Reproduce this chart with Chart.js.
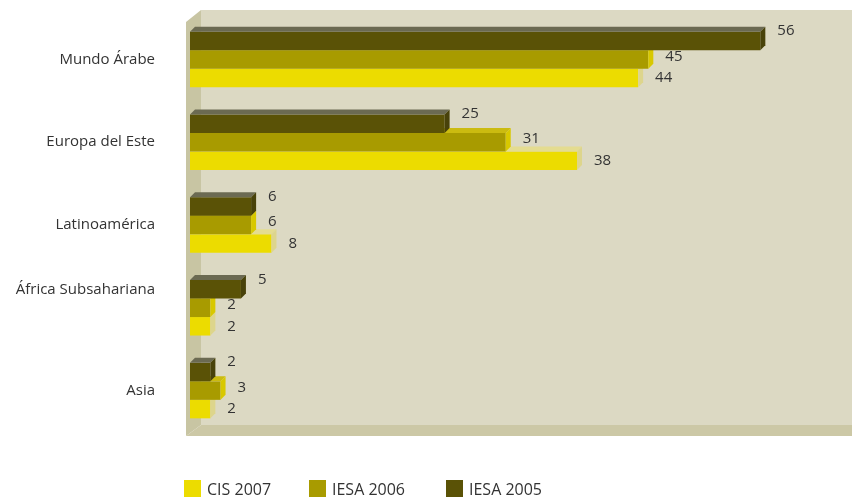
<!DOCTYPE html>
<html>
<head>
<meta charset="utf-8">
<script src="https://cdn.jsdelivr.net/npm/chart.js@4/dist/chart.umd.min.js"></script>
<style>
  html, body { margin: 0; padding: 0; background: #fff; }
  #wrap { width: 852px; height: 499px; position: relative; }
</style>
</head>
<body>
<div id="wrap"><canvas id="chart" width="852" height="499"></canvas></div>
<script>
// Datos
const categories = ['Mundo Árabe', 'Europa del Este', 'Latinoamérica', 'África Subsahariana', 'Asia'];
const iesa2005 = [56, 25, 6, 5, 2];
const iesa2006 = [45, 31, 6, 2, 3];
const cis2007 = [44, 38, 8, 2, 2];
const seriesLabels = ['IESA 2005', 'IESA 2006', 'CIS 2007'];

// Colores (frente, lado, arriba)
const front = ['#5a5206', '#a89b00', '#ecdc00'];
const side = ['#48420a', '#d8c800', '#ddd58c'];
const topFace = ['#6b6a52', '#cbbb10', '#e4dc90'];
const labelDy = [-10, -3, 0];
const depth = 5;
const FONT = '"Open Sans", "Liberation Sans", sans-serif';

const decoPlugin = {
    id: 'deco',
    beforeDraw(chart) {
        const ctx = chart.ctx;
        const a = chart.chartArea;
        const l = a.left - 4, b = a.bottom + 4;
        ctx.save();
        // pared de fondo
        ctx.fillStyle = '#dcd9c3';
        ctx.fillRect(l + 15, 10, chart.width - l - 15, b - 11 - 10);
        // pared izquierda
        ctx.fillStyle = '#c8c5a3';
        ctx.beginPath();
        ctx.moveTo(l, 22);
        ctx.lineTo(l + 15, 10);
        ctx.lineTo(l + 15, b - 11);
        ctx.lineTo(l, b);
        ctx.closePath();
        ctx.fill();
        // suelo
        ctx.fillStyle = '#ccc8a6';
        ctx.beginPath();
        ctx.moveTo(l, b);
        ctx.lineTo(l + 15, b - 11);
        ctx.lineTo(chart.width, b - 11);
        ctx.lineTo(chart.width, b);
        ctx.closePath();
        ctx.fill();
        ctx.restore();
    },
    afterDatasetDraw(chart, args) {
        const ctx = chart.ctx;
        const i = args.index;
        ctx.save();
        args.meta.data.forEach(bar => {
            const p = bar.getProps(['x', 'y', 'base', 'height'], true);
            const t = p.y - p.height / 2, bt = p.y + p.height / 2;
            ctx.fillStyle = topFace[i];
            ctx.beginPath();
            ctx.moveTo(p.base, t);
            ctx.lineTo(p.base + depth, t - depth);
            ctx.lineTo(p.x + depth, t - depth);
            ctx.lineTo(p.x, t);
            ctx.closePath();
            ctx.fill();
            ctx.fillStyle = side[i];
            ctx.beginPath();
            ctx.moveTo(p.x, t);
            ctx.lineTo(p.x + depth, t - depth);
            ctx.lineTo(p.x + depth, bt - depth);
            ctx.lineTo(p.x, bt);
            ctx.closePath();
            ctx.fill();
        });
        ctx.restore();
    },
    afterDraw(chart) {
        const ctx = chart.ctx;
        ctx.save();
        ctx.font = '15px ' + FONT;
        ctx.fillStyle = '#333';
        ctx.textBaseline = 'middle';
        ctx.textAlign = 'left';
        chart.data.datasets.forEach((ds, i) => {
            chart.getDatasetMeta(i).data.forEach((bar, j) => {
                ctx.fillText(ds.data[j], bar.x + 17, bar.y + labelDy[i]);
            });
        });
        // leyenda
        ctx.font = '16px ' + FONT;
        const legendX = [184, 309, 446];
        const order = [2, 1, 0];
        order.forEach((di, k) => {
            ctx.fillStyle = front[di];
            ctx.fillRect(legendX[k], 480, 17, 17);
            ctx.fillStyle = '#333';
            ctx.fillText(seriesLabels[di], legendX[k] + 23, 490);
        });
        ctx.restore();
    }
};

const chart = new Chart(document.getElementById('chart'), {
    type: 'bar',
    data: {
        labels: categories,
        datasets: [iesa2005, iesa2006, cis2007].map((d, i) => ({
            label: seriesLabels[i],
            data: d,
            backgroundColor: front[i],
            borderWidth: 0,
            categoryPercentage: 0.67,
            barPercentage: 1
        }))
    },
    options: {
        indexAxis: 'y',
        responsive: false,
        animation: false,
        layout: { padding: { top: 18, bottom: 67, right: 0, left: 0 } },
        plugins: {
            legend: { display: false },
            tooltip: { enabled: false }
        },
        scales: {
            x: {
                display: false,
                min: 0,
                max: 65
            },
            y: {
                grid: { display: false, drawTicks: false },
                border: { display: false },
                ticks: {
                    padding: 35,
                    color: '#333',
                    font: { size: 15, family: FONT },
                    // la etiqueta de África va algo más arriba
                    callback: (v, i) => i === 3 ? [categories[i], '', ''] : categories[i]
                },
                afterFit(scale) {
                    scale.width = 190;
                    scale.paddingTop = 0;
                    scale.paddingBottom = 0;
                }
            }
        }
    },
    plugins: [decoPlugin]
});
</script>
</body>
</html>
